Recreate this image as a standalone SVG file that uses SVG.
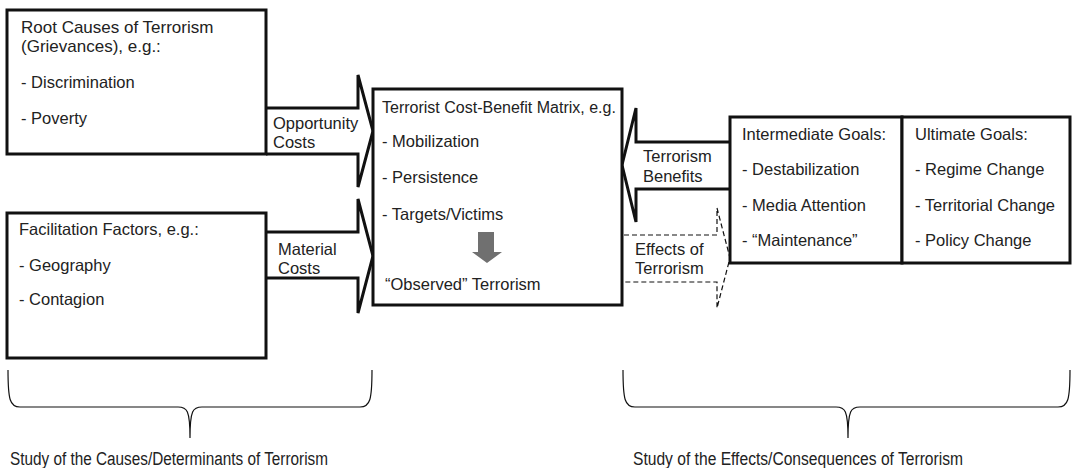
<svg xmlns="http://www.w3.org/2000/svg" width="1075" height="468" viewBox="0 0 1075 468">
<style>
.box{fill:#fff;stroke:#111;stroke-width:3}
.arr{fill:#fff;stroke:#111;stroke-width:3;stroke-linejoin:miter}
.dash{fill:none;stroke:#111;stroke-width:1.2;stroke-dasharray:5,3}
.brace{fill:none;stroke:#111;stroke-width:1.2}
text{font-family:"Liberation Sans",Arial,sans-serif;font-size:16.5px;fill:#222}
.study{font-size:18px}
</style>
<rect width="1075" height="468" fill="#fff"/>
<g id="connectors">
<path class="arr" d="M266,108 H358 V75 L373,131 L358,187 V154 H266"/>
<path class="arr" d="M266,232 H358 V199 L373,256 L358,313 V278 H266"/>
<path class="arr" d="M730,142 H636 V108 L622,165 L636,222 V189 H730"/>
<path class="dash" d="M624,235 H717 V208 L730,258 L717,308 V282 H624"/>
<text x="273" y="129">Opportunity</text>
<text x="273" y="148">Costs</text>
<text x="278" y="255">Material</text>
<text x="278" y="274">Costs</text>
<text x="643" y="162">Terrorism</text>
<text x="643" y="182">Benefits</text>
<text x="635" y="255">Effects of</text>
<text x="635" y="274">Terrorism</text>
</g>
<g id="root-causes">
<rect class="box" x="7" y="10" width="259" height="144"/>
<text x="21" y="33" style="font-size:17px">Root Causes of Terrorism</text>
<text x="21" y="52" style="font-size:17px">(Grievances), e.g.:</text>
<text x="21" y="88">- Discrimination</text>
<text x="21" y="124">- Poverty</text>
</g>
<g id="facilitation">
<rect class="box" x="7" y="213" width="259" height="145"/>
<text x="19" y="235">Facilitation Factors, e.g.:</text>
<text x="19" y="271">- Geography</text>
<text x="19" y="305">- Contagion</text>
</g>
<g id="matrix">
<rect class="box" x="373" y="89" width="249" height="216"/>
<text x="382" y="113" style="font-size:16px">Terrorist Cost-Benefit Matrix, e.g.</text>
<text x="382" y="147">- Mobilization</text>
<text x="382" y="183">- Persistence</text>
<text x="382" y="220">- Targets/Victims</text>
<polygon points="478,232 494,232 494,252 502,252 487,263 472,252 478,252" fill="#707070"/>
<text x="385" y="290">“Observed” Terrorism</text>
</g>
<g id="intermediate">
<rect class="box" x="730" y="117" width="172" height="146"/>
<text x="742" y="140">Intermediate Goals:</text>
<text x="742" y="175">- Destabilization</text>
<text x="742" y="211">- Media Attention</text>
<text x="742" y="246">- “Maintenance”</text>
</g>
<g id="ultimate">
<rect class="box" x="902" y="117" width="168" height="146"/>
<text x="915" y="140">Ultimate Goals:</text>
<text x="915" y="175">- Regime Change</text>
<text x="915" y="211">- Territorial Change</text>
<text x="915" y="246">- Policy Change</text>
</g>
<g id="causes-brace">
<path class="brace" d="M8,370 C8,400 10,407 20,407 H178 C187,407 190,410 190,438 C190,410 193,407 202,407 H360 C370,407 372,400 372,370"/>
<text class="study" x="10" y="465" textLength="318" lengthAdjust="spacingAndGlyphs">Study of the Causes/Determinants of Terrorism</text>
</g>
<g id="effects-brace">
<path class="brace" d="M623,370 C623,400 625,407 635,407 H836 C845,407 848,410 848,438 C848,410 851,407 860,407 H1058 C1068,407 1070,400 1070,370"/>
<text class="study" x="633" y="465" textLength="330" lengthAdjust="spacingAndGlyphs">Study of the Effects/Consequences of Terrorism</text>
</g>
</svg>
